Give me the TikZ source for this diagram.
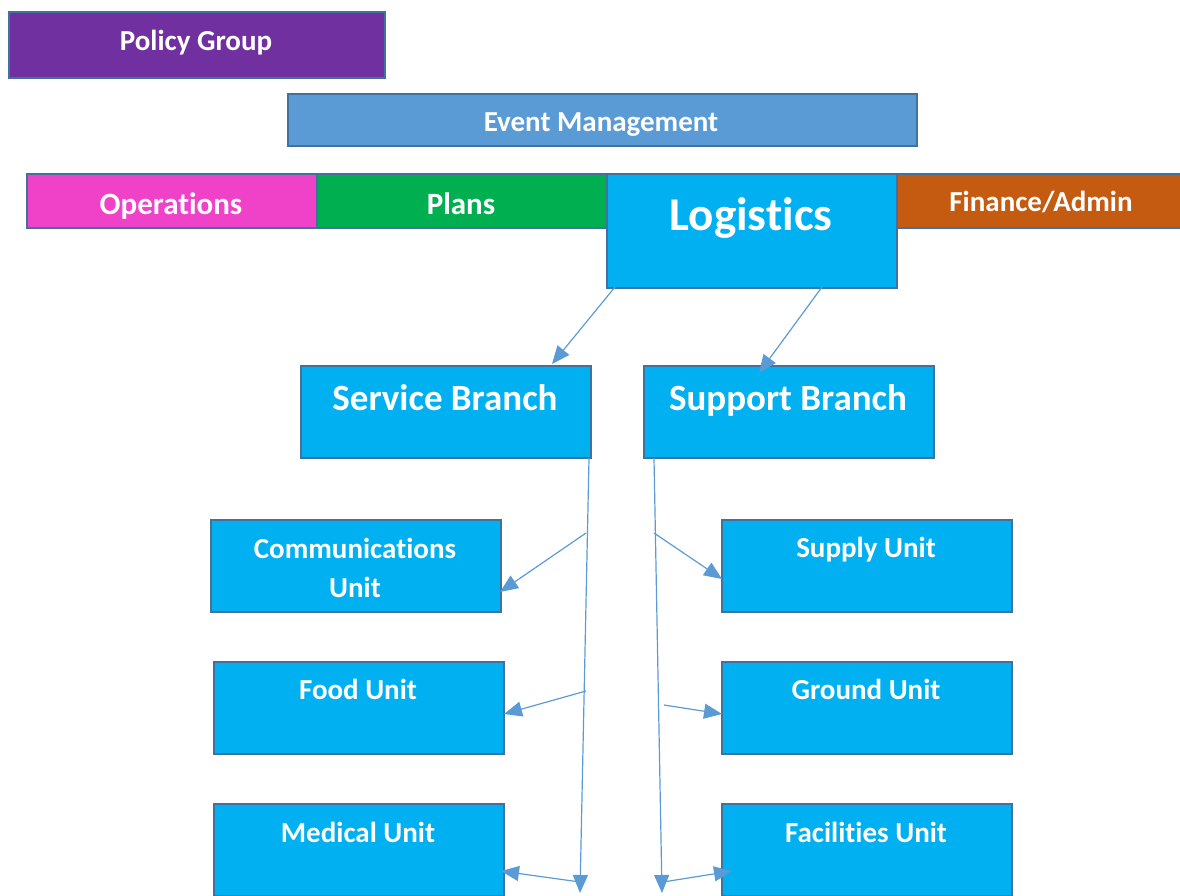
\documentclass[tikz,border=0pt]{standalone}
\usepackage{fontspec}
\setmainfont{Carlito}[Ligatures=NoCommon]
\usetikzlibrary{arrows.meta}
\definecolor{edgec}{HTML}{41719C}
\definecolor{arrowc}{HTML}{5B9BD5}
\definecolor{purplec}{HTML}{7030A0}
\definecolor{eventc}{HTML}{5B9BD5}
\definecolor{opsc}{HTML}{F041C9}
\definecolor{plansc}{HTML}{00B050}
\definecolor{logc}{HTML}{00B0F0}
\definecolor{finc}{HTML}{C55A11}
\begin{document}
\begin{tikzpicture}[x=1pt,y=-1pt,
  box/.style={draw=edgec, line width=1.8pt, inner sep=0pt, anchor=north west, minimum width=290pt, minimum height=92pt, fill=logc},
  lbl/.style={text=white, font=\bfseries\fontsize{29}{39}\selectfont, inner sep=0pt, anchor=base, align=center},
  arr/.style={draw=arrowc, line width=1.2pt, -{Triangle[length=18pt,width=15pt]}}]
\useasboundingbox (0,0) rectangle (1180,895);
\clip (0,0) rectangle (1180,895);
% top bars
\node[box, fill=purplec, minimum width=376pt, minimum height=66pt] (pg) at (8,11) {};
\node[lbl] (pgt) at (196,50) {Policy Group};
\node[box, fill=eventc, minimum width=629pt, minimum height=52pt] (em) at (287,93) {};
\node[lbl] (emt) at (601,131) {Event Management};
\node[box, fill=opsc, minimum height=54pt] (op) at (26,173) {};
\node[lbl, font=\bfseries\fontsize{31}{37}\selectfont] (opt) at (171,214) {Operations};
\node[box, fill=plansc, minimum height=54pt] (pl) at (316,173) {};
\node[lbl, font=\bfseries\fontsize{31}{37}\selectfont] (plt) at (461,214) {Plans};
\node[box, fill=finc, minimum height=54pt] (fa) at (896,173) {};
\node[lbl] (fat) at (1041,211) {Finance/Admin};
\node[box, minimum height=114pt] (lg) at (606,173) {};
\node[lbl, font=\bfseries\fontsize{47}{56}\selectfont] (lgt) at (751,230) {Logistics};
% branches
\node[box] (sv) at (300,365) {};
\node[lbl, font=\bfseries\fontsize{37}{44}\selectfont] (svt) at (445,410) {Service Branch};
\node[box] (sp) at (643,365) {};
\node[lbl, font=\bfseries\fontsize{37}{44}\selectfont] (spt) at (788,410) {Support Branch};
% units
\node[box] (cu) at (210,519) {};
\node[lbl, anchor=north] (cut) at (355,538) {Communications\\Unit};
\node[box] (su) at (721,519) {};
\node[lbl] (sut) at (866,557) {Supply Unit};
\node[box] (fu) at (213,661) {};
\node[lbl] (fut) at (358,699) {Food Unit};
\node[box] (gu) at (721,661) {};
\node[lbl] (gut) at (866,699) {Ground Unit};
\node[box] (mu) at (213,803) {};
\node[lbl] (mut) at (358,842) {Medical Unit};
\node[box] (fcu) at (721,803) {};
\node[lbl] (fcut) at (866,842) {Facilities Unit};
% connector points
\coordinate (l1) at (615,287);
\coordinate (l2) at (822,287);
\coordinate (s1) at (552,364);
\coordinate (s2) at (759,373);
\coordinate (v1) at (589,458);
\coordinate (v1e) at (580,893);
\coordinate (v2) at (654,458);
\coordinate (v2e) at (662,893);
\coordinate (c1) at (586,533);
\coordinate (c1e) at (500,592);
\coordinate (f1) at (586,691);
\coordinate (f1e) at (504,714);
\coordinate (m1) at (580,882);
\coordinate (m1e) at (501,871);
\coordinate (c2) at (654,533);
\coordinate (c2e) at (722,579);
\coordinate (f2) at (664,705);
\coordinate (f2e) at (722,714);
\coordinate (m2) at (663,882);
\coordinate (m2e) at (732,871);
\draw[arr] (l1) -- (s1);
\draw[arr] (l2) -- (s2);
\draw[arr] (v1) -- (v1e);
\draw[arr] (v2) -- (v2e);
\draw[arr] (c1) -- (c1e);
\draw[arr] (f1) -- (f1e);
\draw[arr] (m1) -- (m1e);
\draw[arr] (c2) -- (c2e);
\draw[arr] (f2) -- (f2e);
\draw[arr] (m2) -- (m2e);
\end{tikzpicture}
\end{document}
